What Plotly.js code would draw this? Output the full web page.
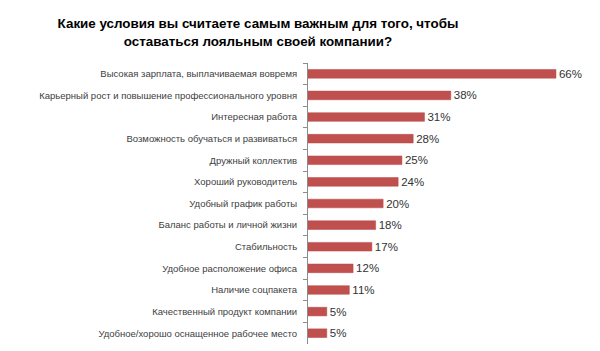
<!DOCTYPE html>
<html>
<head>
<meta charset="utf-8">
<script src="https://cdn.plot.ly/plotly-3.0.1.min.js"></script>
<style>html,body{margin:0;padding:0;background:#fff;}#chart{width:600px;height:351px;}</style>
</head>
<body>
<div id="chart"></div>
<script>
const categories = [
  "Высокая зарплата, выплачиваемая вовремя",
  "Карьерный рост и повышение профессионального уровня",
  "Интересная работа",
  "Возможность обучаться и развиваться",
  "Дружный коллектив",
  "Хороший руководитель",
  "Удобный график работы",
  "Баланс работы и личной жизни",
  "Стабильность",
  "Удобное расположение офиса",
  "Наличие соцпакета",
  "Качественный продукт компании",
  "Удобное/хорошо оснащенное рабочее место"
];
const values = [66, 38, 31, 28, 25, 24, 20, 18, 17, 12, 11, 5, 5];
const valueLabels = values.map(v => v + "%");
const titleText = "Какие условия вы считаете самым важным для того, чтобы<br>оставаться лояльным своей компании?";

const trace = {
  type: "bar",
  orientation: "h",
  y: categories,
  x: values,
  text: valueLabels,
  textposition: "outside",
  constraintext: "none",
  cliponaxis: false,
  textfont: {family: "Liberation Sans, Arial, sans-serif", size: 11.5, color: "#333333"},
  marker: {color: "#C0504D", line: {color: "#B8474A", width: 0.5}},
  hoverinfo: "none"
};

const layout = {
  width: 600,
  height: 351,
  paper_bgcolor: "#ffffff",
  plot_bgcolor: "#ffffff",
  margin: {l: 307.5, r: 28.5, t: 63, b: 7},
  bargap: 0.6,
  showlegend: false,
  title: {
    text: titleText,
    font: {family: "Liberation Sans, Arial, sans-serif", size: 13.4, color: "#000000", weight: "bold"},
    xref: "container",
    x: 0.43,
    xanchor: "center",
    yref: "container",
    y: 0.92,
    yanchor: "middle"
  },
  xaxis: {
    range: [0, 70],
    visible: false,
    showgrid: false,
    zeroline: false,
    fixedrange: true
  },
  yaxis: {
    type: "category",
    autorange: "reversed",
    showline: true,
    linecolor: "#8c8c8c",
    linewidth: 1,
    ticks: "outside",
    tickson: "boundaries",
    ticklen: 4,
    tickcolor: "#8c8c8c",
    showgrid: false,
    zeroline: false,
    ticklabelstandoff: 8,
    tickfont: {family: "Liberation Sans, Arial, sans-serif", size: 9.5, color: "#404040"},
    fixedrange: true
  }
};

Plotly.newPlot("chart", [trace], layout, {displayModeBar: false, staticPlot: true});
</script>
</body>
</html>
